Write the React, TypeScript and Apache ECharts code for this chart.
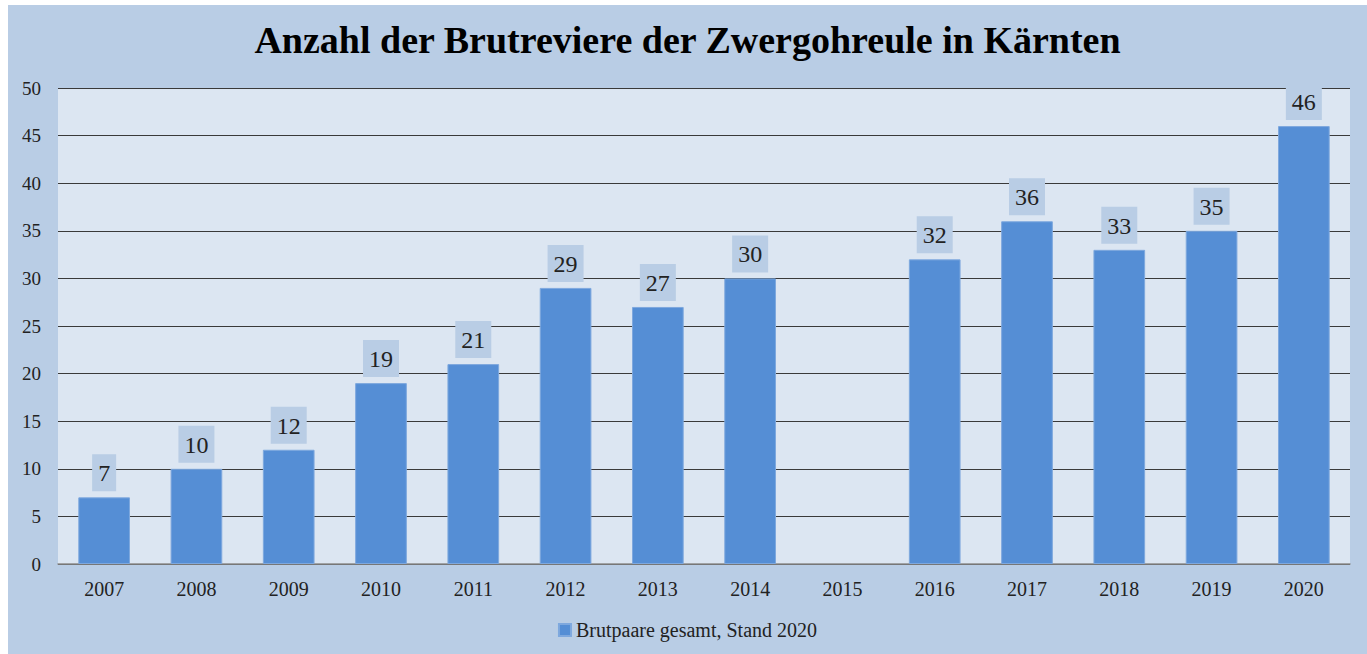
import React, { useEffect, useRef } from "react";
import * as echarts from "echarts";

const categories = ["2007", "2008", "2009", "2010", "2011", "2012", "2013", "2014", "2015", "2016", "2017", "2018", "2019", "2020"];
const values: (number | null)[] = [7, 10, 12, 19, 21, 29, 27, 30, null, 32, 36, 33, 35, 46];
const yTicks = [0, 5, 10, 15, 20, 25, 30, 35, 40, 45, 50];
const titleText = "Anzahl der Brutreviere der Zwergohreule in Kärnten";
const seriesName = "Brutpaare gesamt, Stand 2020";

const FONT = "'Liberation Serif', 'Times New Roman', serif";

export default function App() {
  const ref = useRef<HTMLDivElement>(null);
  useEffect(() => {
    if (!ref.current) return;
    const chart = echarts.init(ref.current, null, { renderer: "svg" });
    chart.setOption({
      animation: false,
      backgroundColor: "#b9cde5",
      textStyle: { fontFamily: FONT },
      title: {
        text: titleText,
        left: "center",
        top: 11,
        textStyle: { fontFamily: FONT, fontSize: 38, fontWeight: "bold", color: "#000" },
      },
      legend: {
        data: [seriesName],
        bottom: 9,
        left: "center",
        icon: "rect",
        itemWidth: 12,
        itemHeight: 12,
        itemGap: 4,
        textStyle: { fontFamily: FONT, fontSize: 20, color: "#222" },
      },
      grid: {
        left: 50,
        right: 17,
        top: 83,
        bottom: 90,
        show: true,
        backgroundColor: "#dce6f2",
        borderWidth: 0,
      },
      xAxis: {
        type: "category",
        data: categories,
        axisTick: { show: false },
        axisLine: { lineStyle: { color: "#8c8c8c", width: 1.5 } },
        axisLabel: { fontFamily: FONT, fontSize: 20, color: "#222", margin: 15 },
      },
      yAxis: {
        type: "value",
        min: yTicks[0],
        max: yTicks[yTicks.length - 1],
        interval: 5,
        axisLine: { show: false },
        axisTick: { show: false },
        axisLabel: { fontFamily: FONT, fontSize: 19, color: "#222", margin: 17 },
        splitLine: { lineStyle: { color: "#3a3a3a", width: 1 } },
      },
      series: [
        {
          name: seriesName,
          type: "bar",
          data: values,
          barWidth: "56%",
          itemStyle: { color: "#558ed5", borderColor: "#7ea8de", borderWidth: 1 },
          label: {
            show: true,
            position: "top",
            distance: 6,
            fontFamily: FONT,
            fontSize: 24,
            color: "#222",
            backgroundColor: "#b9cde5",
            padding: [7, 6, 6, 6],
          },
        },
      ],
    });
    return () => chart.dispose();
  }, []);
  return (
    <div
      ref={ref}
      style={{ position: "absolute", left: 8, top: 5, width: 1359, height: 649 }}
    />
  );
}
